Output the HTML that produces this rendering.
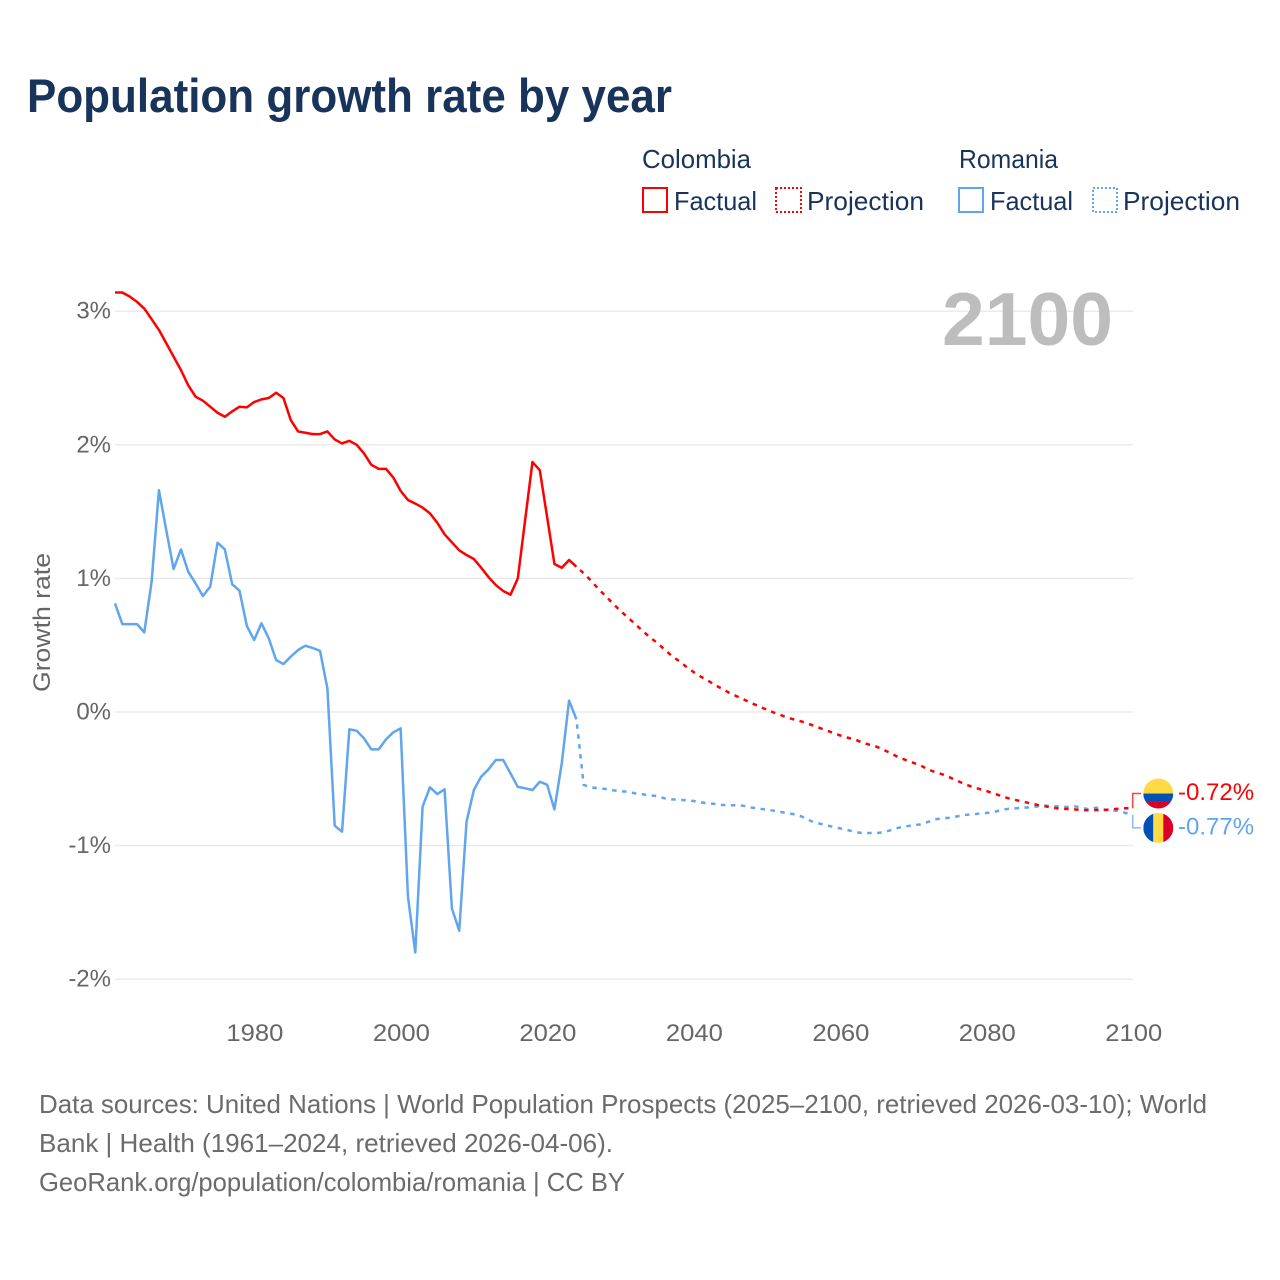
<!DOCTYPE html>
<html lang="en">
<head>
<meta charset="utf-8">
<title>Population growth rate by year</title>
<style>
html,body{margin:0;padding:0;background:#fff;width:1280px;height:1280px;overflow:hidden}
svg{display:block;font-family:"Liberation Sans",sans-serif}
</style>
</head>
<body>
<svg id="chart" xmlns="http://www.w3.org/2000/svg" width="1280" height="1280" viewBox="0 0 1280 1280">
  <rect x="0" y="0" width="1280" height="1280" fill="#fff"/>
  <text x="27" y="112" font-size="47" font-weight="700" fill="#18345a" textLength="645" lengthAdjust="spacingAndGlyphs">Population growth rate by year</text>

  <g font-size="26" fill="#18345a">
    <text x="642" y="168" textLength="109" lengthAdjust="spacingAndGlyphs">Colombia</text>
    <text x="959" y="168" textLength="99" lengthAdjust="spacingAndGlyphs">Romania</text>
    <g>
      <rect x="643" y="188" width="24" height="24" fill="none" stroke="#ff0000" stroke-width="2"/>
      <text x="674" y="210" textLength="83" lengthAdjust="spacingAndGlyphs">Factual</text>
    </g>
    <g>
      <rect x="776" y="188" width="25" height="24" fill="none" stroke="#ff0000" stroke-width="2" stroke-dasharray="2 2"/>
      <text x="807" y="210" textLength="117" lengthAdjust="spacingAndGlyphs">Projection</text>
    </g>
    <g>
      <rect x="959" y="188" width="24" height="24" fill="none" stroke="#60a5ee" stroke-width="2"/>
      <text x="990" y="210" textLength="83" lengthAdjust="spacingAndGlyphs">Factual</text>
    </g>
    <g>
      <rect x="1093" y="188" width="24" height="24" fill="none" stroke="#60a5ee" stroke-width="2" stroke-dasharray="2 2"/>
      <text x="1123" y="210" textLength="117" lengthAdjust="spacingAndGlyphs">Projection</text>
    </g>
  </g>

  <g id="grid"></g>
  <g id="yticks" font-size="24" fill="#666" text-anchor="end"></g>
  <g id="xticks" font-size="24" fill="#666" text-anchor="middle"></g>
  <text transform="translate(50,622.5) rotate(-90)" font-size="24" fill="#666" text-anchor="middle" textLength="139" lengthAdjust="spacingAndGlyphs">Growth rate</text>
  <text x="942" y="345" font-size="75" font-weight="700" fill="#bdbdbd" textLength="171" lengthAdjust="spacingAndGlyphs">2100</text>

  <g id="series"></g>
  <g id="endmarks"></g>

  <defs>
    <clipPath id="clip-co"><circle cx="0" cy="0" r="15"/></clipPath>
    <clipPath id="clip-ro"><circle cx="0" cy="0" r="15"/></clipPath>
  </defs>
  <g id="flag-colombia" clip-path="url(#clip-co)">
    <rect x="-15" y="-15" width="30" height="15" fill="#ffda44"/>
    <rect x="-15" y="0" width="30" height="7.5" fill="#0052b4"/>
    <rect x="-15" y="7.5" width="30" height="7.5" fill="#d80027"/>
  </g>
  <g id="flag-romania" clip-path="url(#clip-ro)">
    <rect x="-15" y="-15" width="10" height="30" fill="#0052b4"/>
    <rect x="-5" y="-15" width="10" height="30" fill="#ffda44"/>
    <rect x="5" y="-15" width="10" height="30" fill="#d80027"/>
  </g>

  <g font-size="26" fill="#6b6b6b">
    <text x="39" y="1113" textLength="1168" lengthAdjust="spacingAndGlyphs">Data sources: United Nations | World Population Prospects (2025–2100, retrieved 2026-03-10); World</text>
    <text x="39" y="1152" textLength="574" lengthAdjust="spacingAndGlyphs">Bank | Health (1961–2024, retrieved 2026-04-06).</text>
    <text x="39" y="1191" textLength="586" lengthAdjust="spacingAndGlyphs">GeoRank.org/population/colombia/romania | CC BY</text>
  </g>
</svg>
<script>
const firstYear = 1961;
const projectionStartYear = 2025;
const yTickValues = [3, 2, 1, 0, -1, -2];
const yTickLabels = ["3%", "2%", "1%", "0%", "-1%", "-2%"];
const xTickValues = [1980, 2000, 2020, 2040, 2060, 2080, 2100];
const xTickLabels = ["1980", "2000", "2020", "2040", "2060", "2080", "2100"];
const colombiaFactual = [
  3.14,3.14,3.11,3.07,3.02,2.94,2.86,2.76,2.66,2.56,
  2.445,2.36,2.33,2.285,2.24,2.21,2.25,2.285,2.28,2.32,
  2.34,2.35,2.39,2.35,2.185,2.10,2.09,2.08,2.08,2.10,
  2.04,2.01,2.03,2.0,1.935,1.85,1.82,1.82,1.755,1.655,
  1.587,1.56,1.53,1.487,1.417,1.33,1.27,1.21,1.175,1.145,
  1.08,1.01,0.95,0.906,0.878,1.0,1.437,1.871,1.81,1.46,
  1.108,1.08,1.138,1.088
];
const colombiaProjection = [
  1.038,0.983,0.921,0.868,0.811,0.758,0.709,0.659,0.609,0.561,
  0.519,0.469,0.421,0.382,0.339,0.299,0.264,0.234,0.2,0.17,
  0.14,0.115,0.09,0.065,0.04,0.017,-0.005,-0.025,-0.045,-0.06,
  -0.075,-0.095,-0.115,-0.135,-0.155,-0.175,-0.192,-0.205,-0.228,-0.245,
  -0.26,-0.285,-0.31,-0.34,-0.36,-0.38,-0.40,-0.43,-0.45,-0.467,
  -0.49,-0.514,-0.54,-0.559,-0.576,-0.592,-0.609,-0.629,-0.646,-0.659,
  -0.671,-0.684,-0.696,-0.706,-0.716,-0.724,-0.726,-0.729,-0.734,-0.736,
  -0.734,-0.734,-0.729,-0.724,-0.72,-0.72
];
const romaniaFactual = [
  0.813,0.658,0.658,0.658,0.596,0.975,1.66,1.36,1.07,1.217,
  1.05,0.963,0.868,0.938,1.267,1.217,0.956,0.908,0.644,0.539,
  0.664,0.55,0.389,0.359,0.414,0.464,0.496,0.479,0.457,0.177,
  -0.851,-0.896,-0.13,-0.14,-0.197,-0.28,-0.28,-0.205,-0.152,-0.122,
  -1.382,-1.80,-0.708,-0.564,-0.614,-0.579,-1.47,-1.637,-0.821,-0.584,
  -0.484,-0.429,-0.359,-0.359,-0.459,-0.561,-0.571,-0.584,-0.522,-0.544,
  -0.729,-0.384,0.085,-0.055
];
const romaniaProjection = [
  -0.546,-0.564,-0.571,-0.576,-0.586,-0.594,-0.596,-0.609,-0.616,-0.624,
  -0.629,-0.646,-0.654,-0.656,-0.661,-0.666,-0.676,-0.684,-0.689,-0.696,
  -0.699,-0.696,-0.704,-0.716,-0.724,-0.731,-0.739,-0.749,-0.761,-0.766,
  -0.788,-0.816,-0.833,-0.846,-0.859,-0.871,-0.883,-0.898,-0.906,-0.906,
  -0.906,-0.9,-0.883,-0.866,-0.856,-0.848,-0.841,-0.823,-0.803,-0.796,
  -0.791,-0.781,-0.771,-0.766,-0.761,-0.756,-0.749,-0.734,-0.724,-0.721,
  -0.716,-0.714,-0.706,-0.701,-0.704,-0.709,-0.711,-0.706,-0.716,-0.729,
  -0.716,-0.73,-0.734,-0.741,-0.756,-0.77
];

const NS = "http://www.w3.org/2000/svg";
function xScale(year) { return 115 + (year - firstYear) * (1133 - 115) / (2100 - firstYear); }
function yScale(value) { return 712 - value * 133.6; }
function svgEl(tag, parent) {
  const el = document.createElementNS(NS, tag);
  parent.appendChild(el);
  return el;
}
function pathFrom(values, startYear) {
  return values.map(function (v, i) {
    return (i ? "L" : "M") + xScale(startYear + i).toFixed(2) + " " + yScale(v).toFixed(2);
  }).join(" ");
}

const gridGroup = document.getElementById("grid");
const yTickGroup = document.getElementById("yticks");
yTickValues.forEach(function (v, i) {
  const line = svgEl("line", gridGroup);
  
  
  line.setAttribute("x1", 115);
  line.setAttribute("x2", 1133);
  line.setAttribute("y1", yScale(v));
  line.setAttribute("y2", yScale(v));
  line.setAttribute("stroke", "#e8e8e8");
  line.setAttribute("stroke-width", "1.3");
  const t = svgEl("text", yTickGroup);
  
  
  t.setAttribute("x", 111);
  t.setAttribute("y", yScale(v) + 7.5);
  t.textContent = yTickLabels[i];
});

const xTickGroup = document.getElementById("xticks");
xTickValues.forEach(function (v, i) {
  const t = svgEl("text", xTickGroup);
  
  
  t.setAttribute("x", xScale(v) + 0.8);
  t.setAttribute("y", 1041);
  t.setAttribute("textLength", 57);
  t.setAttribute("lengthAdjust", "spacingAndGlyphs");
  t.textContent = xTickLabels[i];
});

const seriesGroup = document.getElementById("series");
function drawSeries(factual, projection, color) {
  const solid = svgEl("path", seriesGroup);
  
  
  solid.setAttribute("d", pathFrom(factual, firstYear));
  solid.setAttribute("fill", "none");
  solid.setAttribute("stroke", color);
  solid.setAttribute("stroke-width", "2.5");
  solid.setAttribute("stroke-linejoin", "round");
  const dashed = svgEl("path", seriesGroup);
  
  
  dashed.setAttribute("d", pathFrom([factual[factual.length - 1]].concat(projection), projectionStartYear - 1));
  dashed.setAttribute("fill", "none");
  dashed.setAttribute("stroke", color);
  dashed.setAttribute("stroke-width", "2.5");
  dashed.setAttribute("stroke-dasharray", "4.5 5.5");
  dashed.setAttribute("stroke-dashoffset", "-5");
}
drawSeries(romaniaFactual, romaniaProjection, "#60a5ee");
drawSeries(colombiaFactual, colombiaProjection, "#ff0000");

const coLast = colombiaProjection[colombiaProjection.length - 1];
const roLast = romaniaProjection[romaniaProjection.length - 1];
const midY = (yScale(coLast) + yScale(roLast)) / 2;
const endGroup = document.getElementById("endmarks");
function drawEnd(value, labelY, color, flagId) {
  const y = yScale(value);
  const leader = svgEl("path", endGroup);
  
  
  leader.setAttribute("d", "M1132.7 " + y + " L1132.7 " + labelY + " L1141 " + labelY);
  leader.setAttribute("fill", "none");
  leader.setAttribute("stroke", color);
  leader.setAttribute("stroke-width", "1.5");
  leader.setAttribute("stroke-opacity", "0.75");
  const t = svgEl("text", endGroup);
  
  
  t.setAttribute("x", 1178);
  t.setAttribute("y", labelY + 6.5);
  t.setAttribute("font-size", "24");
  t.setAttribute("fill", color);
  t.textContent = value.toFixed(2) + "%";
  document.getElementById(flagId).setAttribute("transform", "translate(1158.3," + labelY + ")");
}
drawEnd(coLast, midY - 18, "#ff0000", "flag-colombia");
drawEnd(roLast, midY + 16.4, "#60a5ee", "flag-romania");
</script>
</body>
</html>
